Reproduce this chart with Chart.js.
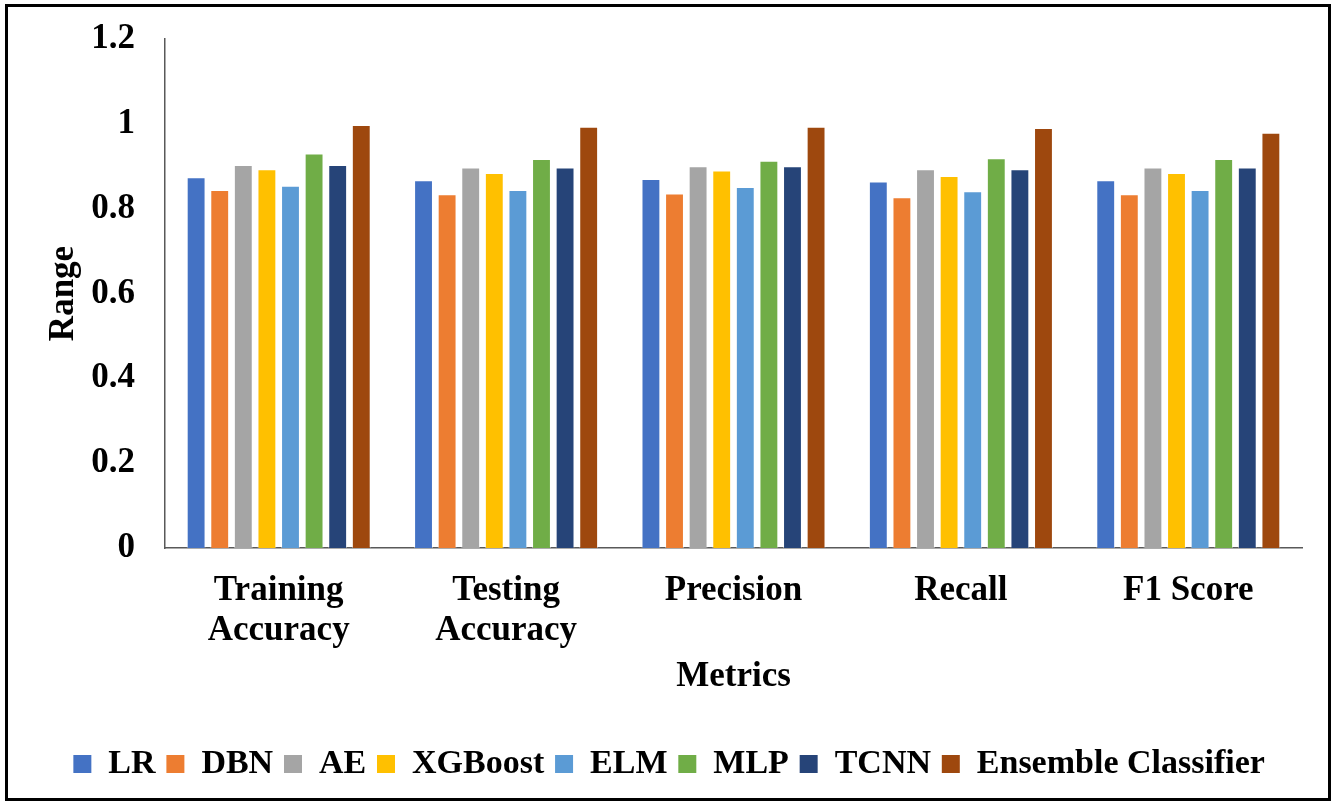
<!DOCTYPE html>
<html>
<head>
<meta charset="utf-8">
<script src="https://cdn.jsdelivr.net/npm/chart.js@4"></script>
<style>
html,body{margin:0;padding:0;background:#fff;}
#wrap{width:1336px;height:803px;position:relative;}
</style>
</head>
<body>
<div id="wrap"><canvas id="c" width="1336" height="803"></canvas></div>
<script>
const categories = [["Training","Accuracy"],["Testing","Accuracy"],"Precision","Recall","F1 Score"];
const seriesNames = ["LR","DBN","AE","XGBoost","ELM","MLP","TCNN","Ensemble Classifier"];
const LR       = [0.874, 0.867, 0.870, 0.864, 0.867];
const DBN      = [0.844, 0.834, 0.836, 0.827, 0.834];
const AE       = [0.903, 0.897, 0.900, 0.893, 0.897];
const XGBoost  = [0.893, 0.884, 0.890, 0.877, 0.884];
const ELM      = [0.854, 0.844, 0.851, 0.841, 0.844];
const MLP      = [0.930, 0.917, 0.913, 0.919, 0.917];
const TCNN     = [0.903, 0.897, 0.900, 0.893, 0.897];
const Ensemble = [0.997, 0.993, 0.993, 0.990, 0.979];
const yTickValues = [0, 0.2, 0.4, 0.6, 0.8, 1, 1.2];
const yTickLabels = ["0","0.2","0.4","0.6","0.8","1","1.2"];

const seriesValues = [LR, DBN, AE, XGBoost, ELM, MLP, TCNN, Ensemble];
const colors = ["#4472C4","#ED7D31","#A5A5A5","#FFC000","#5B9BD5","#70AD47","#264478","#9E480E"];
const FONT = "'Liberation Serif', 'Times New Roman', serif";

const frame = {
  id: 'frame',
  afterDraw(chart) {
    const ctx = chart.ctx;
    ctx.save();
    ctx.strokeStyle = '#000';
    ctx.lineWidth = 3;
    ctx.strokeRect(6.5, 5.5, 1323, 794);
    ctx.restore();
  }
};

new Chart(document.getElementById('c'), {
  type: 'bar',
  data: {
    labels: categories,
    datasets: seriesNames.map((n, i) => ({
      label: n,
      data: seriesValues[i],
      backgroundColor: colors[i],
      borderColor: 'rgba(255,255,255,0.45)',
      borderWidth: 1,
      barPercentage: 0.8,
      categoryPercentage: 0.83
    }))
  },
  options: {
    responsive: false,
    animation: false,
    devicePixelRatio: 1,
    layout: { padding: { left: 43, right: 34, top: 39, bottom: 12 } },
    plugins: {
      tooltip: { enabled: false },
      legend: {
        position: 'bottom',
        labels: {
          font: { family: FONT, size: 34, weight: 'bold' },
          color: '#000',
          boxWidth: 18,
          boxHeight: 18,
          padding: 4,
          generateLabels(chart) {
            return Chart.defaults.plugins.legend.labels.generateLabels(chart).map(l => {
              l.text = l.text + '\u2009';
              l.strokeStyle = 'rgba(0,0,0,0)';
              l.lineWidth = 0;
              return l;
            });
          }
        }
      }
    },
    scales: {
      x: {
        grid: { display: false, drawTicks: false },
        border: { display: true, color: '#595959', width: 1.5 },
        ticks: {
          font: { family: FONT, size: 35, weight: 'bold', lineHeight: 1.14 },
          color: '#000',
          padding: 23,
          maxRotation: 0,
          autoSkip: false
        },
        title: {
          display: true,
          text: 'Metrics',
          font: { family: FONT, size: 35, weight: 'bold' },
          color: '#000',
          padding: { top: 0, bottom: 45 }
        },
        afterFit(scale) { scale.height = 195; scale.paddingLeft = 0; scale.paddingRight = 0; }
      },
      y: {
        min: 0,
        max: 1.2,
        afterBuildTicks(scale) { scale.ticks = yTickValues.map(v => ({ value: v })); },
        grid: { display: false, drawTicks: false },
        border: { display: true, color: '#595959', width: 1.5 },
        ticks: {
          font: { family: FONT, size: 35, weight: 'bold' },
          color: '#000',
          padding: 30,
          callback: (v) => { const i = yTickValues.findIndex(t => Math.abs(t - v) < 1e-6); return i >= 0 ? yTickLabels[i] : ''; }
        },
        title: {
          display: true,
          text: 'Range',
          font: { family: FONT, size: 35, weight: 'bold' },
          color: '#000',
          padding: { top: 0, bottom: 10 }
        },
        afterFit(scale) { scale.width = 122; scale.paddingTop = 0; scale.paddingBottom = 0; }
      }
    }
  },
  plugins: [frame]
});
</script>
</body>
</html>
